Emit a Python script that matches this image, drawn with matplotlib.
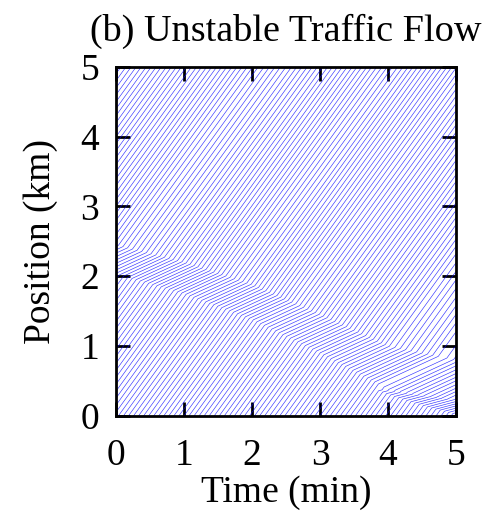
import numpy as np
import matplotlib
matplotlib.use("Agg")
import matplotlib.pyplot as plt

# ---- values ----
v_free = 1.35          # km/min, free-flow slope
spacing = 0.1          # km between vehicles in free flow
# jam band A (backward travelling wave)
bandA_t = [-3.0, 0.0, 1.0, 2.0, 3.0, 4.0, 5.0]
bandA_upper = [3.6, 2.45, 2.2, 1.88, 1.45, 1.0, 0.8]
bandA_width = [0.42, 0.42, 0.45, 0.5, 0.55, 0.62, 0.58]
v_bandA = 0.45
# late jam B near the entrance
bandB_t = [3.85, 4.2, 4.6, 5.0]
bandB_lower = [0.36, 0.24, 0.12, 0.02]
bandB_upper = [0.38, 0.33, 0.28, 0.22]
v_bandB = 0.26

x_ticks = [0, 1, 2, 3, 4, 5]
y_ticks = [0, 1, 2, 3, 4, 5]

plt.rcParams['font.family'] = ['Liberation Serif', 'DejaVu Serif']

def speed(x, t):
    v = np.full_like(x, v_free)
    up = np.interp(t, bandA_t, bandA_upper)
    lo = up - np.interp(t, bandA_t, bandA_width)
    v[(x > lo) & (x < up)] = v_bandA
    if t >= bandB_t[0]:
        lb = np.interp(t, bandB_t, bandB_lower)
        ub = np.interp(t, bandB_t, bandB_upper)
        v[(x > lb) & (x < ub)] = v_bandB
    return v

t0, t1, dt = -3.0, 5.0, 0.002
x = np.arange(-20.0, 9.0, spacing)
ts = [t0]
xs = [x.copy()]
t = t0
while t < t1:
    x = x + speed(x, t) * dt
    t += dt
    ts.append(t)
    xs.append(x.copy())
ts = np.array(ts)
xs = np.array(xs)
mask = ts >= -0.01

fig = plt.figure(figsize=(4.91, 5.14), dpi=100)
ax = fig.add_axes([0.236, 0.191, 0.693, 0.679])
for i in range(xs.shape[1]):
    xi = xs[mask, i]
    if xi.max() < 0 or xi.min() > 5:
        continue
    ax.plot(ts[mask], xi, color='blue', lw=0.45, alpha=0.8)

ax.set_xlim(0, 5)
ax.set_ylim(0, 5)
ax.set_xticks(x_ticks)
ax.set_yticks(y_ticks)
ax.tick_params(direction='in', length=10, width=2, top=True, right=True,
               labelsize=27)
ax.tick_params(axis='x', pad=16)
ax.tick_params(axis='y', pad=12)
for s in ax.spines.values():
    s.set_linewidth(2)
ax.set_xlabel('Time (min)', fontsize=27, labelpad=2)
ax.set_ylabel('Position (km)', fontsize=27, labelpad=16)
ax.set_title('(b) Unstable Traffic Flow', fontsize=27.5, pad=19)
fig.savefig('out.png', dpi=100)
